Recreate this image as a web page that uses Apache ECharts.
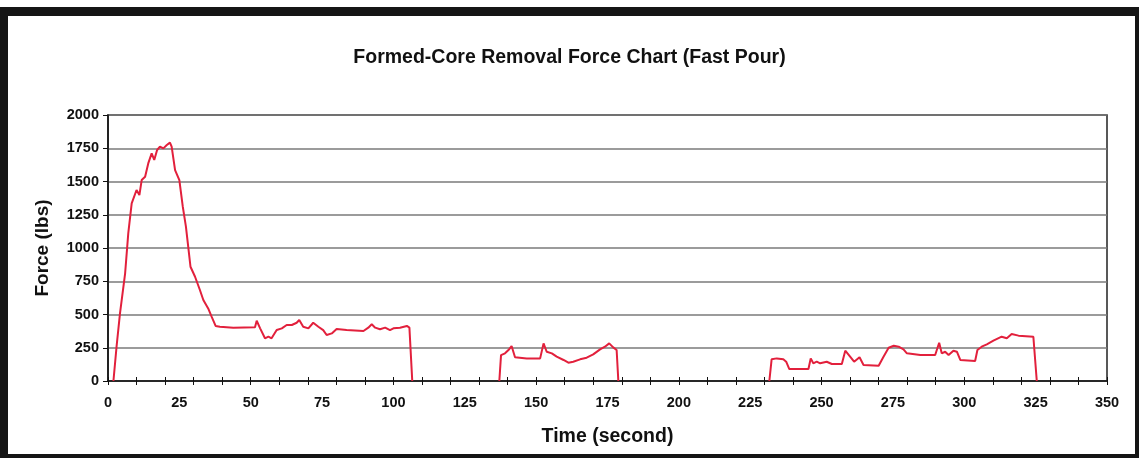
<!DOCTYPE html>
<html>
<head>
<meta charset="utf-8">
<script src="https://cdn.jsdelivr.net/npm/echarts@6/dist/echarts.min.js"></script>
<style>
  html, body { margin: 0; padding: 0; background: #fff; }
  #main { width: 1139px; height: 458px; }
</style>
</head>
<body>
<div id="main"></div>
<script>
// time (s) and force (lbs), three pull segments
var seg1Time  = [1.9, 3.0, 4.2, 6.0, 7.1, 8.3, 10.0, 11.0, 11.8, 13.0, 14.1, 15.3, 16.2, 17.2, 18.2, 19.4, 20.6, 21.7, 22.3, 23.5, 25.0, 26.2, 27.3, 28.1, 28.9, 30.5, 32.2, 33.4, 35.1, 36.3, 37.7, 39.2, 43.9, 51.5, 52.1, 53.3, 55.0, 56.2, 57.3, 59.1, 60.9, 62.6, 64.4, 66.1, 67.0, 68.4, 70.2, 71.9, 73.7, 75.4, 76.6, 78.4, 80.1, 83.6, 89.5, 91.2, 92.4, 93.6, 95.3, 97.1, 98.8, 100.0, 102.3, 104.7, 105.6, 106.6];
var seg1Force = [0, 258, 509, 810, 1110, 1336, 1436, 1398, 1511, 1536, 1636, 1711, 1662, 1737, 1762, 1749, 1774, 1792, 1762, 1586, 1511, 1311, 1160, 1010, 859, 784, 684, 609, 546, 484, 414, 408, 401, 404, 453, 396, 321, 333, 321, 383, 396, 421, 421, 438, 459, 408, 396, 438, 408, 383, 346, 358, 391, 383, 376, 401, 426, 401, 389, 401, 383, 396, 401, 414, 401, 0];

var seg2Time  = [137.1, 137.7, 139.1, 140.3, 141.4, 142.6, 146.7, 151.4, 152.6, 153.7, 155.5, 157.2, 159.6, 161.3, 163.0, 165.4, 167.7, 170.0, 172.4, 174.1, 175.6, 177.0, 178.2, 178.8];
var seg2Force = [0, 195, 208, 233, 263, 178, 170, 170, 283, 220, 208, 183, 158, 138, 145, 163, 175, 200, 238, 258, 283, 253, 233, 0];

var seg3Time  = [231.7, 232.5, 234.3, 236.6, 237.6, 238.7, 242.5, 245.4, 246.2, 247.1, 248.3, 249.5, 251.8, 253.6, 257.1, 258.3, 260.0, 261.4, 263.3, 264.7, 270.0, 271.7, 273.5, 275.3, 277.0, 278.7, 279.9, 284.6, 289.8, 291.2, 292.1, 293.3, 294.5, 296.2, 297.4, 298.6, 303.8, 304.6, 306.1, 307.9, 310.2, 313.1, 314.9, 316.6, 319.0, 324.2, 325.4];
var seg3Force = [0, 163, 170, 163, 145, 90, 90, 90, 170, 133, 145, 133, 145, 128, 128, 228, 183, 145, 178, 120, 115, 183, 250, 265, 258, 238, 208, 195, 195, 288, 208, 220, 195, 228, 220, 158, 150, 233, 258, 276, 303, 333, 321, 353, 341, 333, 0];

var xTicks = [0, 25, 50, 75, 100, 125, 150, 175, 200, 225, 250, 275, 300, 325, 350];
var yTicks = [0, 250, 500, 750, 1000, 1250, 1500, 1750, 2000];

// join segments with a null gap so the line breaks between pulls
var lineData = [];
[[seg1Time, seg1Force], [seg2Time, seg2Force], [seg3Time, seg3Force]].forEach(function (s, i) {
    if (i > 0) lineData.push([s[0][0] - 0.1, null]);
    s[0].forEach(function (t, k) { lineData.push([t, s[1][k]]); });
});

var font = 'Liberation Sans, Arial, sans-serif';
var chart = echarts.init(document.getElementById('main'));

var option = {
  animation: false,
  backgroundColor: '#fff',
  title: {
    text: 'Formed-Core Removal Force Chart (Fast Pour)',
    left: 'center',
    top: 43,
    textStyle: { fontFamily: font, fontWeight: 'bold', fontSize: 19.5, color: '#111' }
  },
  grid: {
    left: 108, right: 32, top: 115, bottom: 77,
    show: true, borderColor: '#222', borderWidth: 1.5, backgroundColor: 'transparent'
  },
  xAxis: [
    {
      type: 'value', min: xTicks[0], max: xTicks[xTicks.length - 1], interval: 25,
      name: 'Time (second)', nameLocation: 'middle', nameGap: 46,
      nameTextStyle: { fontFamily: font, fontWeight: 'bold', fontSize: 19.5, color: '#111' },
      axisLine: { lineStyle: { color: '#111', width: 1.5 } },
      axisTick: { show: false },
      axisLabel: { fontFamily: font, fontWeight: 'bold', fontSize: 14.5, color: '#111', margin: 14 },
      splitLine: { show: false }
    },
    {
      type: 'value', min: 0, max: 350, interval: 10, position: 'bottom',
      axisLine: { show: false },
      axisTick: { show: true, inside: true, length: 4, lineStyle: { color: '#111' } },
      axisLabel: { show: false },
      splitLine: { show: false }
    },
    {
      type: 'value', min: 0, max: 350, interval: 10, position: 'bottom',
      axisLine: { show: false },
      axisTick: { show: true, length: 4, lineStyle: { color: '#111' } },
      axisLabel: { show: false },
      splitLine: { show: false }
    }
  ],
  yAxis: {
    type: 'value', min: yTicks[0], max: yTicks[yTicks.length - 1], interval: 250,
    name: 'Force (lbs)', nameLocation: 'middle', nameGap: 56, nameRotate: 90,
    nameTextStyle: { fontFamily: font, fontWeight: 'bold', fontSize: 19, color: '#111' },
    axisLine: { show: true, lineStyle: { color: '#111', width: 1.5 } },
    axisTick: { show: true, length: 5, lineStyle: { color: '#111' } },
    axisLabel: {
      fontFamily: font, fontWeight: 'bold', fontSize: 14.5, color: '#111', margin: 9,
      formatter: function (v) { return String(v); }
    },
    splitLine: { show: true, lineStyle: { color: '#7a7a7a', width: 1.5 } }
  },
  series: [
    {
      type: 'line',
      xAxisIndex: 0,
      data: lineData,
      showSymbol: false,
      connectNulls: false,
      lineStyle: { color: '#e2203c', width: 2 },
      z: 5
    }
  ],
  graphic: [
    { type: 'rect', shape: { x: 0, y: 7, width: 1139, height: 9 }, style: { fill: '#151515' } },
    { type: 'rect', shape: { x: 0, y: 7, width: 8, height: 451 }, style: { fill: '#151515' } },
    { type: 'rect', shape: { x: 0, y: 454, width: 1139, height: 4 }, style: { fill: '#151515' } },
    { type: 'rect', shape: { x: 1135, y: 16, width: 4, height: 442 }, style: { fill: '#151515' } }
  ]
};

chart.setOption(option);
</script>
</body>
</html>
